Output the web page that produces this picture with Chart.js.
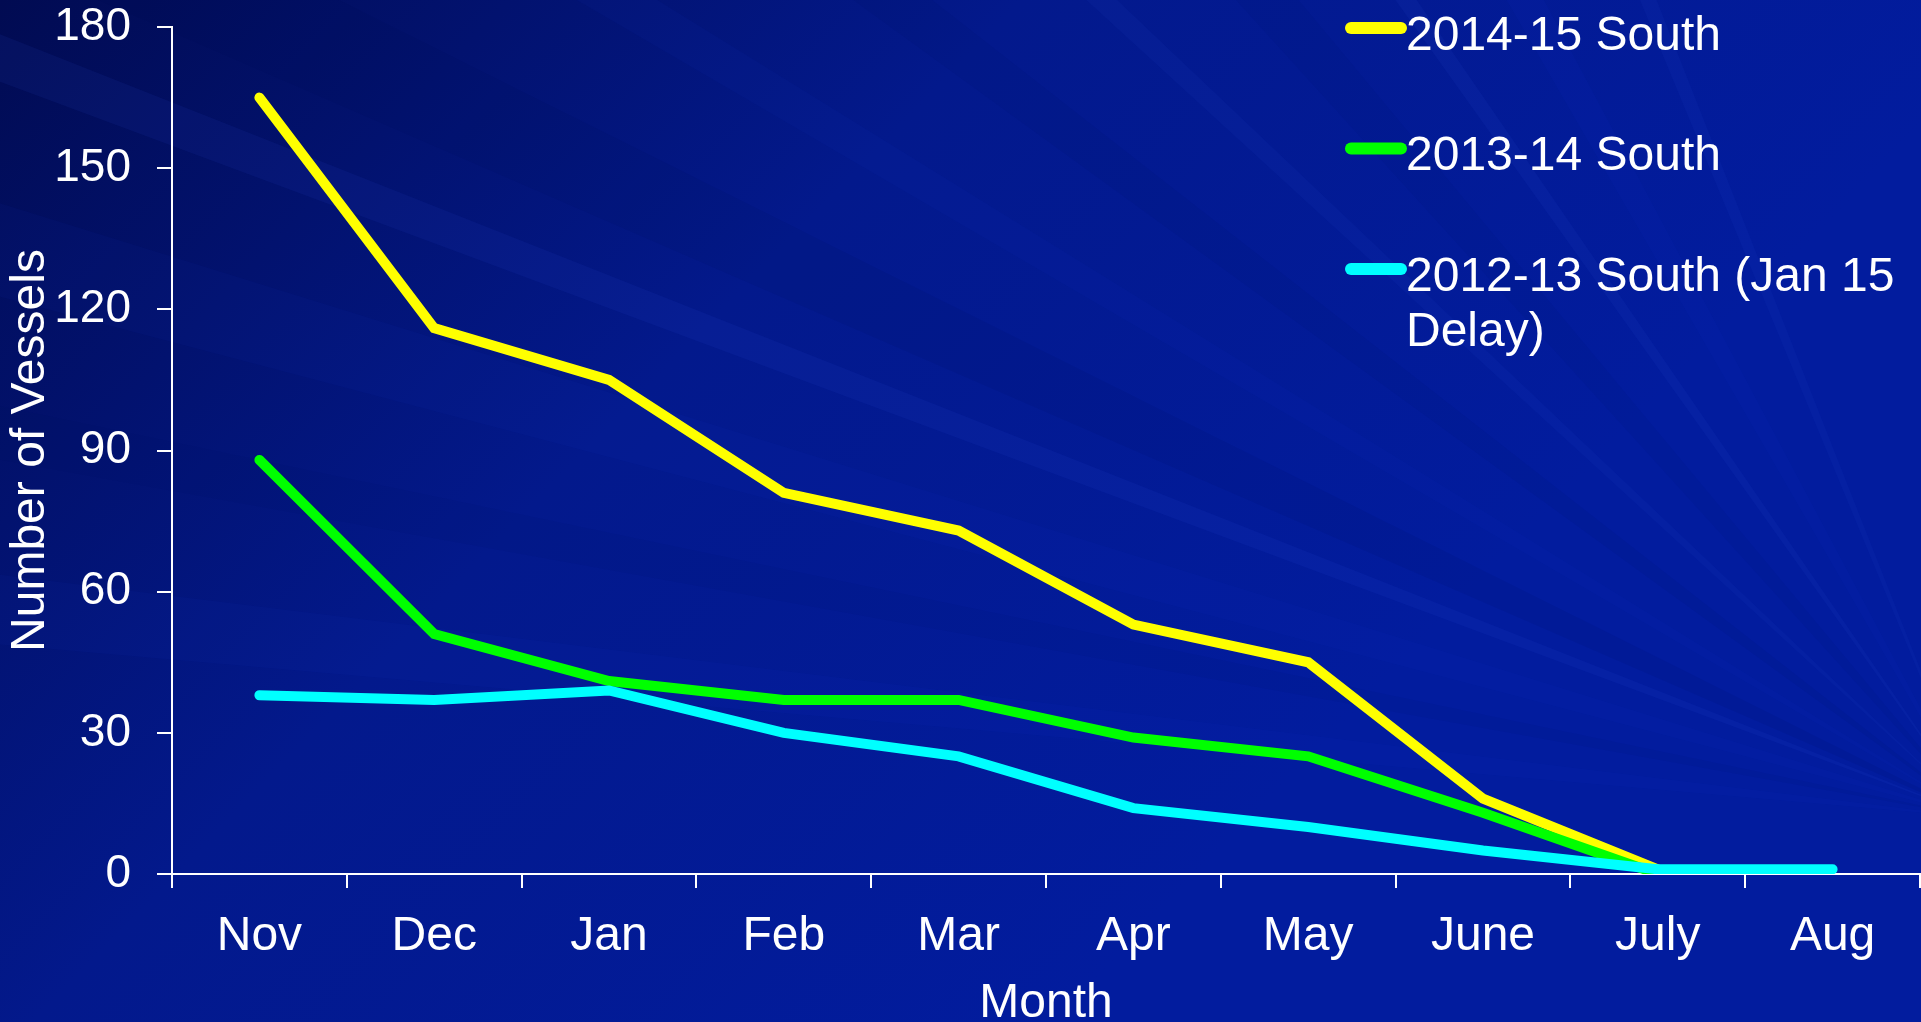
<!DOCTYPE html>
<html><head><meta charset="utf-8">
<script src="https://cdn.jsdelivr.net/npm/chart.js@4.4.1/dist/chart.umd.min.js"></script>
<style>html,body{margin:0;padding:0;overflow:hidden;background:#02168a;}#wrap{width:1921px;height:1022px;position:relative}canvas{display:block}</style>
</head><body><div id="wrap"><canvas id="c" width="1921" height="1022"></canvas></div>
<script>
const months = ['Nov','Dec','Jan','Feb','Mar','Apr','May','June','July','Aug'];
const seriesLabels = ['2014-15 South','2013-14 South','2012-13 South (Jan 15 Delay)'];
const south1415 = [165,116,105,81,73,53,45,16,1,null];
const south1314 = [88,51,41,37,37,29,25,13,0,null];
const south1213 = [38,37,39,30,25,14,10,5,1,1];
const yTicks = [0,30,60,90,120,150,180];
const seriesColors = ['#ffff00','#00ff00','#00ffff'];
const FONT = '"Liberation Sans", Arial, sans-serif';

const bgPlugin = {
  id:'bg',
  beforeDraw(chart){
    const {ctx, width, height} = chart;
    ctx.save();
    const g = ctx.createLinearGradient(0,0,width*0.55,height);
    g.addColorStop(0,'#010b52');
    g.addColorStop(0.5,'#03198c');
    g.addColorStop(1,'#021c9e');
    ctx.fillStyle = g; ctx.fillRect(0,0,width,height);
    const fx = width*1.03, fy = height*0.8;
    const rays = [[186,2,0.04,'#3050ff'],[191,1.5,0.06,'#000a50'],[196,2.5,0.04,'#3050ff'],[201,1.2,0.07,'#4060ff'],
                  [205,3,0.08,'#000a50'],[211,1.5,0.04,'#3050ff'],[217,2,0.07,'#000a50'],[223,1,0.05,'#5070ff'],
                  [229,2.5,0.06,'#000a50'],[235,1,0.06,'#5070ff'],[241,2,0.04,'#3050ff'],[248,1,0.05,'#5070ff']];
    const R = 4000;
    rays.forEach(([a,w,al,c])=>{
      const a1 = (a - w/2)*Math.PI/180, a2 = (a + w/2)*Math.PI/180;
      ctx.globalAlpha = al; ctx.fillStyle = c;
      ctx.beginPath(); ctx.moveTo(fx,fy);
      ctx.lineTo(fx+R*Math.cos(a1), fy+R*Math.sin(a1));
      ctx.lineTo(fx+R*Math.cos(a2), fy+R*Math.sin(a2));
      ctx.closePath(); ctx.fill();
    });
    ctx.restore();
  }
};

const legendPlugin = {
  id:'customLegend',
  afterDatasetsDraw(chart){
    const ctx = chart.ctx;
    const x0 = 1345, lineLen = 62, textX = 1406, y0 = 28, gap = 120.5, lh = 55, maxW = 505;
    ctx.save();
    ctx.font = '48px ' + FONT;
    chart.data.datasets.forEach((ds,i)=>{
      const y = y0 + i*gap;
      ctx.strokeStyle = ds.borderColor; ctx.lineWidth = 12; ctx.lineCap = 'round';
      ctx.beginPath(); ctx.moveTo(x0+6,y); ctx.lineTo(x0+lineLen-6,y); ctx.stroke();
      const words = ds.label.split(' '); const lines = []; let cur = '';
      words.forEach(w=>{ const t = cur ? cur+' '+w : w; if (ctx.measureText(t).width > maxW && cur){ lines.push(cur); cur = w; } else cur = t; });
      lines.push(cur);
      ctx.fillStyle = '#ffffff'; ctx.textBaseline = 'alphabetic'; ctx.textAlign = 'left';
      lines.forEach((ln,j)=> ctx.fillText(ln, textX, y + 21.5 + j*lh));
    });
    ctx.restore();
  }
};

const datasets = [south1415, south1314, south1213].map((d,i)=>({
  label: seriesLabels[i], data: d, borderColor: seriesColors[i], backgroundColor: seriesColors[i],
  borderWidth: 10, pointRadius: 0, tension: 0, borderCapStyle: 'round', borderJoinStyle: 'miter',
  fill: false, order: 3 - i
}));

new Chart(document.getElementById('c'), {
  type: 'line',
  data: { labels: months, datasets },
  options: {
    responsive: false, animation: false, devicePixelRatio: 1,
    layout: { padding: { top: 27, right: 1, left: 0, bottom: 0 } },
    plugins: { legend: { display: false }, tooltip: { enabled: false } },
    scales: {
      x: {
        type: 'category', offset: true,
        grid: { offset: true, drawOnChartArea: false, drawTicks: true, tickLength: 14, color: '#ffffff', lineWidth: 2 },
        border: { display: true, color: '#ffffff', width: 2 },
        ticks: { color: '#ffffff', font: { family: FONT, size: 48 }, padding: 20, maxRotation: 0, autoSkip: false },
        title: { display: true, text: 'Month', color: '#ffffff', font: { family: FONT, size: 48 }, padding: { top: 0, bottom: -11 } },
        afterFit(s){ s.height = 148; s.paddingLeft = 0; s.paddingRight = 0; }
      },
      y: {
        min: 0, max: 180,
        afterBuildTicks(s){ s.ticks = yTicks.map(v=>({value:v})); },
        grid: { drawOnChartArea: false, drawTicks: true, tickLength: 15, color: '#ffffff', lineWidth: 2 },
        border: { display: true, color: '#ffffff', width: 2 },
        ticks: { color: '#ffffff', font: { family: FONT, size: 46 }, padding: 26 },
        title: { display: true, text: 'Number of Vessels', color: '#ffffff', font: { family: FONT, size: 48 }, padding: { top: 2, bottom: 0 } },
        afterFit(s){ s.width = 172; s.paddingTop = 0; s.paddingBottom = 0; }
      }
    }
  },
  plugins: [bgPlugin, legendPlugin]
});
</script></body></html>
